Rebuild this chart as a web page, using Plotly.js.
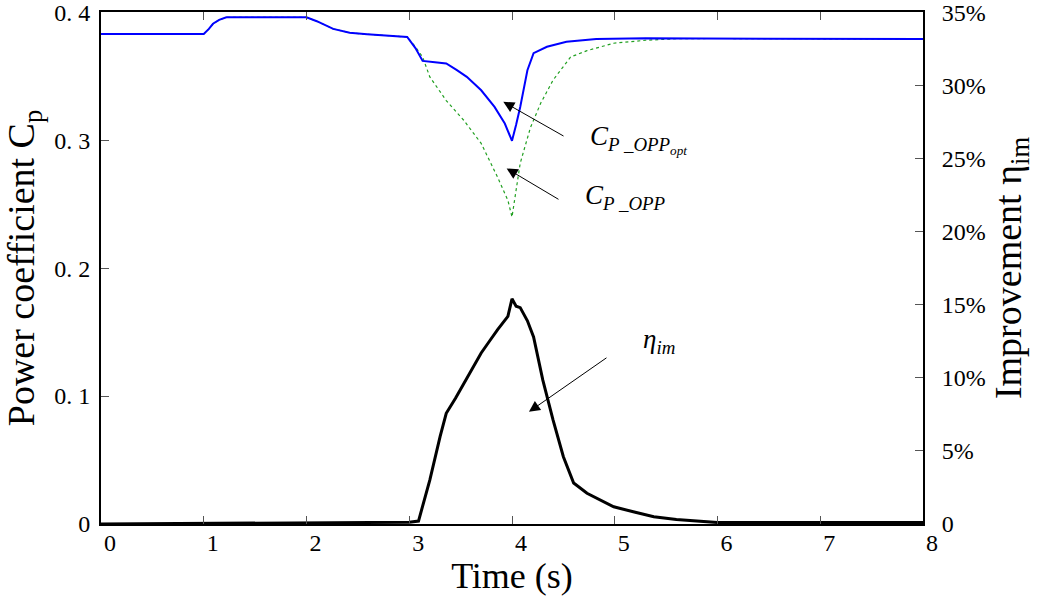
<!DOCTYPE html>
<html>
<head>
<meta charset="utf-8">
<script src="https://cdn.plot.ly/plotly-3.0.1.min.js"></script>
<style>html,body{margin:0;padding:0;background:#fff;}#chart{width:1042px;height:609px;}</style>
</head>
<body>
<div id="chart"></div>
<script>
// Time axis (s)
const xTicks = [0, 1, 2, 3, 4, 5, 6, 7, 8];

// Cp_OPP_opt (blue)
const tOpt = [0, 1.0, 1.05, 1.09, 1.15, 1.22, 2.0, 2.1, 2.26, 2.42, 2.59, 2.8, 2.98, 3.06, 3.13, 3.25, 3.36, 3.46, 3.56, 3.70, 3.83, 3.93, 4.00, 4.04, 4.08, 4.15, 4.21, 4.34, 4.53, 4.82, 5.3, 5.83, 8.0];
const cpOpt = [0.383, 0.383, 0.387, 0.391, 0.394, 0.396, 0.396, 0.393, 0.387, 0.384, 0.3828, 0.3815, 0.3807, 0.372, 0.362, 0.361, 0.360, 0.355, 0.3495, 0.339, 0.326, 0.313, 0.2995, 0.312, 0.326, 0.3547, 0.368, 0.373, 0.377, 0.379, 0.3797, 0.3794, 0.379];

// Cp_OPP (green dotted)
const tOpp = [0, 1.0, 1.05, 1.09, 1.15, 1.22, 2.0, 2.1, 2.26, 2.42, 2.59, 2.8, 2.98, 3.06, 3.13, 3.2, 3.36, 3.53, 3.70, 3.86, 3.96, 4.00, 4.04, 4.08, 4.18, 4.28, 4.40, 4.57, 4.73, 4.99, 5.3, 5.63, 6.0, 8.0];
const cpOpp = [0.383, 0.383, 0.387, 0.391, 0.394, 0.396, 0.396, 0.393, 0.387, 0.384, 0.3828, 0.3815, 0.3807, 0.373, 0.365, 0.3495, 0.331, 0.3156, 0.2975, 0.271, 0.253, 0.240, 0.262, 0.282, 0.310, 0.329, 0.347, 0.365, 0.370, 0.3758, 0.3781, 0.3794, 0.3795, 0.379];

// Improvement eta_im (%), right axis
const tEta = [0, 1, 2, 3.0, 3.09, 3.14, 3.20, 3.30, 3.36, 3.45, 3.53, 3.62, 3.70, 3.78, 3.86, 3.96, 4.00, 4.04, 4.08, 4.15, 4.21, 4.30, 4.40, 4.50, 4.60, 4.73, 4.99, 5.2, 5.38, 5.6, 6.0, 7.0, 8.0];
const eta = [0, 0.05, 0.1, 0.12, 0.2, 1.5, 3.0, 5.97, 7.57, 8.6, 9.6, 10.7, 11.7, 12.5, 13.3, 14.2, 15.4, 14.9, 14.8, 13.9, 12.8, 9.84, 7.1, 4.6, 2.8, 2.1, 1.18, 0.8, 0.5, 0.3, 0.1, 0.1, 0.1];

// Tick labels
const leftVals = [0, 0.1, 0.2, 0.3, 0.4];
const leftText = ['0', '0. 1', '0. 2', '0. 3', '0. 4'];
const rightVals = [0, 5, 10, 15, 20, 25, 30, 35];
const rightText = ['0', '5%', '10%', '15%', '20%', '25%', '30%', '35%'];

const FONT = "'Liberation Serif', 'Times New Roman', 'DejaVu Serif', serif";

const traces = [
  {x: tOpp, y: cpOpp, mode: 'lines', line: {color: '#22a022', width: 1.2, dash: 'dot'}, xaxis: 'x', yaxis: 'y', hoverinfo: 'skip'},
  {x: tOpt, y: cpOpt, mode: 'lines', line: {color: '#0000ff', width: 2}, xaxis: 'x', yaxis: 'y', hoverinfo: 'skip'},
  {x: tEta, y: eta, mode: 'lines', line: {color: '#000000', width: 3}, xaxis: 'x', yaxis: 'y2', hoverinfo: 'skip'}
];

const arrow = (x, y, ax, ay) => ({
  x: x, y: y, ax: ax, ay: ay, xref: 'x', yref: 'y', axref: 'x', ayref: 'y',
  text: '', showarrow: true, arrowhead: 2, arrowsize: 2.2, arrowwidth: 1, arrowcolor: '#000'
});

const layout = {
  width: 1042, height: 609,
  margin: {l: 101, r: 119, t: 12, b: 85},
  paper_bgcolor: '#fff', plot_bgcolor: '#fff',
  showlegend: false,
  font: {family: FONT, color: '#000', size: 24},
  xaxis: {
    range: [0, 8], tickvals: xTicks, ticks: 'inside', ticklen: 8, tickcolor: '#555', tickwidth: 1,
    showline: true, linecolor: '#000', linewidth: 2, mirror: 'ticks', showgrid: false, zeroline: false,
    tickfont: {family: FONT, size: 24}, ticklabelshift: 9, ticklabelstandoff: -4, ticklabeloverflow: 'allow',
    title: {text: 'Time (s)', font: {family: FONT, size: 36}, standoff: 8}
  },
  yaxis: {
    range: [0, 0.4002], tickvals: leftVals, ticktext: leftText, ticks: 'inside', ticklen: 8, tickcolor: '#555',
    showline: true, linecolor: '#000', linewidth: 2, showgrid: false, zeroline: false,
    tickfont: {family: FONT, size: 24}, ticklabelstandoff: 4, ticklabeloverflow: 'allow',
    title: {text: 'Power coefficient C<sub>p</sub>', font: {family: FONT, size: 38}, standoff: 10}
  },
  yaxis2: {
    range: [0, 35.02], overlaying: 'y', side: 'right', tickvals: rightVals, ticktext: rightText,
    ticks: 'inside', ticklen: 8, tickcolor: '#555', showline: true, linecolor: '#000', linewidth: 2,
    showgrid: false, zeroline: false, tickfont: {family: FONT, size: 24}, ticklabelstandoff: 12,
    ticklabeloverflow: 'allow',
    title: {text: 'Improvement η<sub>im</sub>', font: {family: FONT, size: 38}, standoff: 10}
  },
  annotations: [
    arrow(3.915, 0.330, 4.516, 0.3026),
    arrow(3.948, 0.2779, 4.467, 0.2531),
    arrow(4.165, 0.0877, 4.934, 0.1307),
    {x: 4.74, y: 0.3008, xref: 'x', yref: 'y', xanchor: 'left', yanchor: 'middle', showarrow: false,
     text: '<i>C<sub>P _OPP<sub>opt</sub></sub></i>', font: {family: FONT, size: 27}},
    {x: 4.69, y: 0.2555, xref: 'x', yref: 'y', xanchor: 'left', yanchor: 'middle', showarrow: false,
     text: '<i>C<sub>P _OPP</sub></i>', font: {family: FONT, size: 27}},
    {x: 5.255, y: 0.143, xref: 'x', yref: 'y', xanchor: 'left', yanchor: 'middle', showarrow: false,
     text: '<i>η<sub>im</sub></i>', font: {family: FONT, size: 27}}
  ]
};

Plotly.newPlot('chart', traces, layout, {displayModeBar: false, staticPlot: true});
</script>
</body>
</html>
